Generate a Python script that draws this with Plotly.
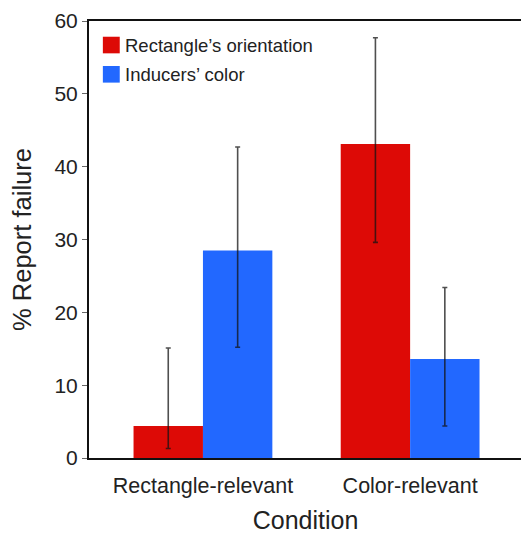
import plotly.graph_objects as go

categories = ["Rectangle-relevant", "Color-relevant"]
series_names = ["Rectangle\u2019s orientation", "Inducers\u2019 color"]
series_colors = ["#DD0A06", "#2268FF"]
orientation_vals = [4.4, 43.1]
orientation_err_plus = [10.7, 14.6]
orientation_err_minus = [3.1, 13.5]
color_vals = [28.5, 13.6]
color_err_plus = [14.2, 9.8]
color_err_minus = [13.3, 9.2]
y_ticks = [0, 10, 20, 30, 40, 50, 60]

err_style = dict(type="data", symmetric=False, color="rgba(20,20,20,0.75)", thickness=1.6, width=2.5)

fig = go.Figure()
fig.add_trace(go.Bar(
    x=categories, y=orientation_vals, name=series_names[0],
    marker=dict(color=series_colors[0], line=dict(width=0)),
    error_y=dict(array=orientation_err_plus, arrayminus=orientation_err_minus, **err_style),
))
fig.add_trace(go.Bar(
    x=categories, y=color_vals, name=series_names[1],
    marker=dict(color=series_colors[1], line=dict(width=0)),
    error_y=dict(array=color_err_plus, arrayminus=color_err_minus, **err_style),
))

# Custom legend (large square swatches) in paper coordinates
legend_y = [0.945, 0.878]
for name, col, ly in zip(series_names, series_colors, legend_y):
    fig.add_shape(type="rect", xref="paper", yref="paper",
                  x0=0.032, x1=0.071, y0=ly - 0.019, y1=ly + 0.019,
                  fillcolor=col, line=dict(width=0))
    fig.add_annotation(xref="paper", yref="paper", x=0.078, y=ly, text=name,
                       showarrow=False, xanchor="left", yanchor="middle",
                       font=dict(size=18.5, color="#222"))

fig.update_layout(
    width=529, height=535,
    margin=dict(l=81, r=15, t=13, b=85),
    paper_bgcolor="white", plot_bgcolor="white",
    font=dict(family="Liberation Sans, Arial, sans-serif", color="#222"),
    barmode="group", bargap=0.33, bargroupgap=0,
    showlegend=False,
    xaxis=dict(
        range=[-0.55, 1.54], showline=True, linecolor="#111", linewidth=2, mirror=True,
        ticks="outside", ticklen=7, tickcolor="rgba(0,0,0,0)", tickfont=dict(size=21.5),
        automargin=False,
        title=dict(text="Condition", font=dict(size=25), standoff=15),
        showgrid=False,
    ),
    yaxis=dict(
        range=[0, 60], tickvals=y_ticks, showline=True, linecolor="#111", linewidth=2, mirror=True,
        ticks="outside", ticklen=5, tickcolor="#666", tickwidth=1, tickfont=dict(size=21),
        automargin=False,
        title=dict(text="% Report failure", font=dict(size=25.5), standoff=17),
        showgrid=False, zeroline=False,
    ),
)

fig.write_html("out.html")
